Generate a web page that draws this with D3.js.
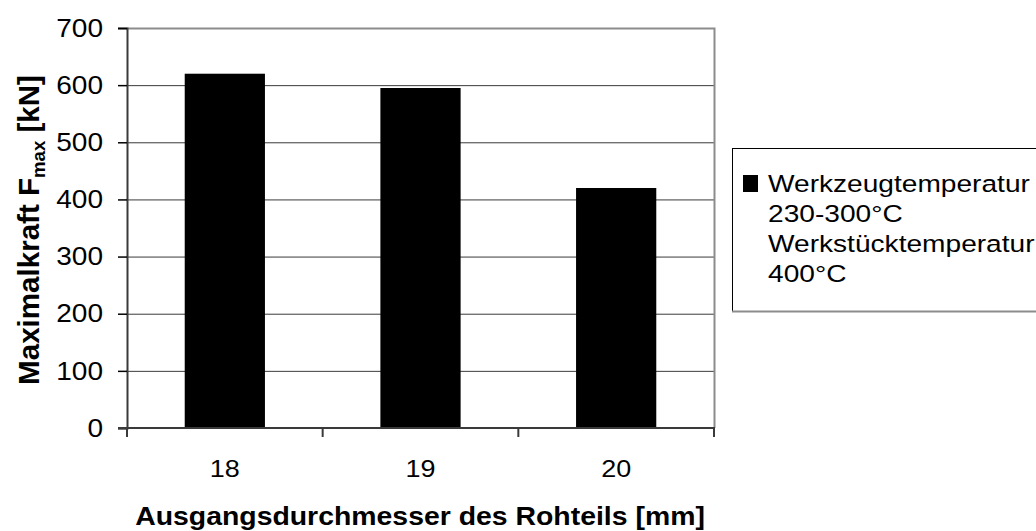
<!DOCTYPE html>
<html>
<head>
<meta charset="utf-8">
<script src="https://cdn.jsdelivr.net/npm/d3@7"></script>
<style>
  html, body { margin: 0; padding: 0; background: #fff; }
  svg { display: block; font-family: "Liberation Sans", Arial, sans-serif; }
</style>
</head>
<body>
<svg id="chart" width="1036" height="531"></svg>
<script>
// Maximum force per blank diameter
const diameters = ["18", "19", "20"];
const maxForce = [620, 595, 420];
const yTicks = [0, 100, 200, 300, 400, 500, 600, 700];
const legendLines = ["Werkzeugtemperatur", "230-300°C", "Werkstücktemperatur", "400°C"];

const svg = d3.select("#chart");
const plot = { left: 127, top: 28, right: 714, bottom: 428 };

const x = d3.scaleBand()
  .domain(diameters)
  .range([plot.left, plot.right])
  .paddingInner(0.59)
  .paddingOuter(0.295);

const xCat = d3.scaleBand().domain(diameters).range([plot.left, plot.right]).padding(0);

const y = d3.scaleLinear().domain([0, 700]).range([plot.bottom, plot.top]);

// places a text at (px, py) with a horizontal stretch factor
function placeText(sel, px, py, sx) {
  return sel.attr("x", 0).attr("y", 0)
    .attr("transform", (d, i) => {
      const X = typeof px === "function" ? px(d, i) : px;
      const Y = typeof py === "function" ? py(d, i) : py;
      return `translate(${X},${Y}) scale(${sx},1)`;
    });
}

// horizontal gridlines
svg.append("g")
  .selectAll("line")
  .data(yTicks.filter(d => d > 0 && d < 700))
  .join("line")
  .attr("x1", plot.left).attr("x2", plot.right)
  .attr("y1", d => y(d) + 0.5).attr("y2", d => y(d) + 0.5)
  .attr("stroke", "#3a3a3a").attr("stroke-width", 1);

// plot area frame (top and right)
svg.append("path")
  .attr("d", `M${plot.left},${plot.top + 0.5}H${plot.right + 0.5}V${plot.bottom}`)
  .attr("fill", "none").attr("stroke", "#8c8c8c").attr("stroke-width", 2);

// bars
svg.append("g")
  .selectAll("rect")
  .data(diameters)
  .join("rect")
  .attr("x", d => x(d))
  .attr("width", x.bandwidth())
  .attr("y", (d, i) => y(maxForce[i]))
  .attr("height", (d, i) => y(0) - y(maxForce[i]))
  .attr("fill", "#000");

// y axis
const yAxis = svg.append("g")
  .attr("transform", `translate(${plot.left},0)`)
  .call(d3.axisLeft(y).tickValues(yTicks).tickSize(9).tickFormat(""));
yAxis.select(".domain").attr("stroke", "#3a3a3a").attr("stroke-width", 2);
yAxis.selectAll(".tick line").attr("stroke", "#000").attr("stroke-width", 1.5);

svg.append("g")
  .selectAll("text")
  .data(yTicks)
  .join("text")
  .attr("text-anchor", "end")
  .attr("font-size", 25.5)
  .text(d => d3.format("d")(d))
  .call(placeText, 103, d => y(d) + 8.7, 1.1);

// x axis with ticks at category boundaries
const xAxis = svg.append("g")
  .attr("transform", `translate(0,${plot.bottom})`);
xAxis.append("line")
  .attr("x1", plot.left - 9).attr("x2", plot.right + 1)
  .attr("y1", 0).attr("y2", 0)
  .attr("stroke", "#3a3a3a").attr("stroke-width", 2);
const bounds = diameters.map(d => xCat(d)).concat([xCat(diameters[diameters.length - 1]) + xCat.bandwidth()]);
xAxis.selectAll("line.tick")
  .data(bounds)
  .join("line")
  .attr("class", "tick")
  .attr("x1", d => d).attr("x2", d => d)
  .attr("y1", 0).attr("y2", 9)
  .attr("stroke", "#3a3a3a").attr("stroke-width", 2);
xAxis.selectAll("text")
  .data(diameters)
  .join("text")
  .attr("text-anchor", "middle")
  .attr("font-size", 24.5)
  .text(d => d)
  .call(placeText, d => xCat(d) + xCat.bandwidth() / 2, 48.7, 1.1);

// x axis title, stretched to its span
const xTitle = svg.append("text")
  .attr("text-anchor", "middle")
  .attr("font-size", 26).attr("font-weight", "bold")
  .text("Ausgangsdurchmesser des Rohteils [mm]");
const xTitleScale = 570 / xTitle.node().getComputedTextLength();
xTitle.call(placeText, 420, 525, xTitleScale);

// y axis title (rotated)
const yTitle = svg.append("text")
  .attr("text-anchor", "middle")
  .attr("font-size", 27).attr("font-weight", "bold");
yTitle.append("tspan").text("Maximalkraft F");
yTitle.append("tspan").attr("font-size", 17).attr("dy", 5).text("max");
yTitle.append("tspan").attr("dy", -5).text(" [kN]");
const yTitleScale = 310 / yTitle.node().getComputedTextLength();
yTitle.attr("transform", `translate(39,230) rotate(-90) scale(${yTitleScale},1.12)`);

// legend
const legend = svg.append("g");
legend.append("rect")
  .attr("x", 732.5).attr("y", 148.5).attr("width", 320).attr("height", 163)
  .attr("fill", "#fff").attr("stroke", "#000").attr("stroke-width", 1);
legend.append("line")
  .attr("x1", 732).attr("x2", 1036).attr("y1", 311.5).attr("y2", 311.5)
  .attr("stroke", "#8c8c8c").attr("stroke-width", 2);
legend.append("rect")
  .attr("x", 743).attr("y", 175).attr("width", 15).attr("height", 17)
  .attr("fill", "#000");
const legendText = legend.selectAll("text.item")
  .data(legendLines)
  .join("text")
  .attr("class", "item")
  .attr("font-size", 24.5)
  .text(d => d);
const legendScale = 262 / legendText.node().getComputedTextLength();
legendText.call(placeText, 768, (d, i) => 191.7 + i * 30, legendScale);
</script>
</body>
</html>
